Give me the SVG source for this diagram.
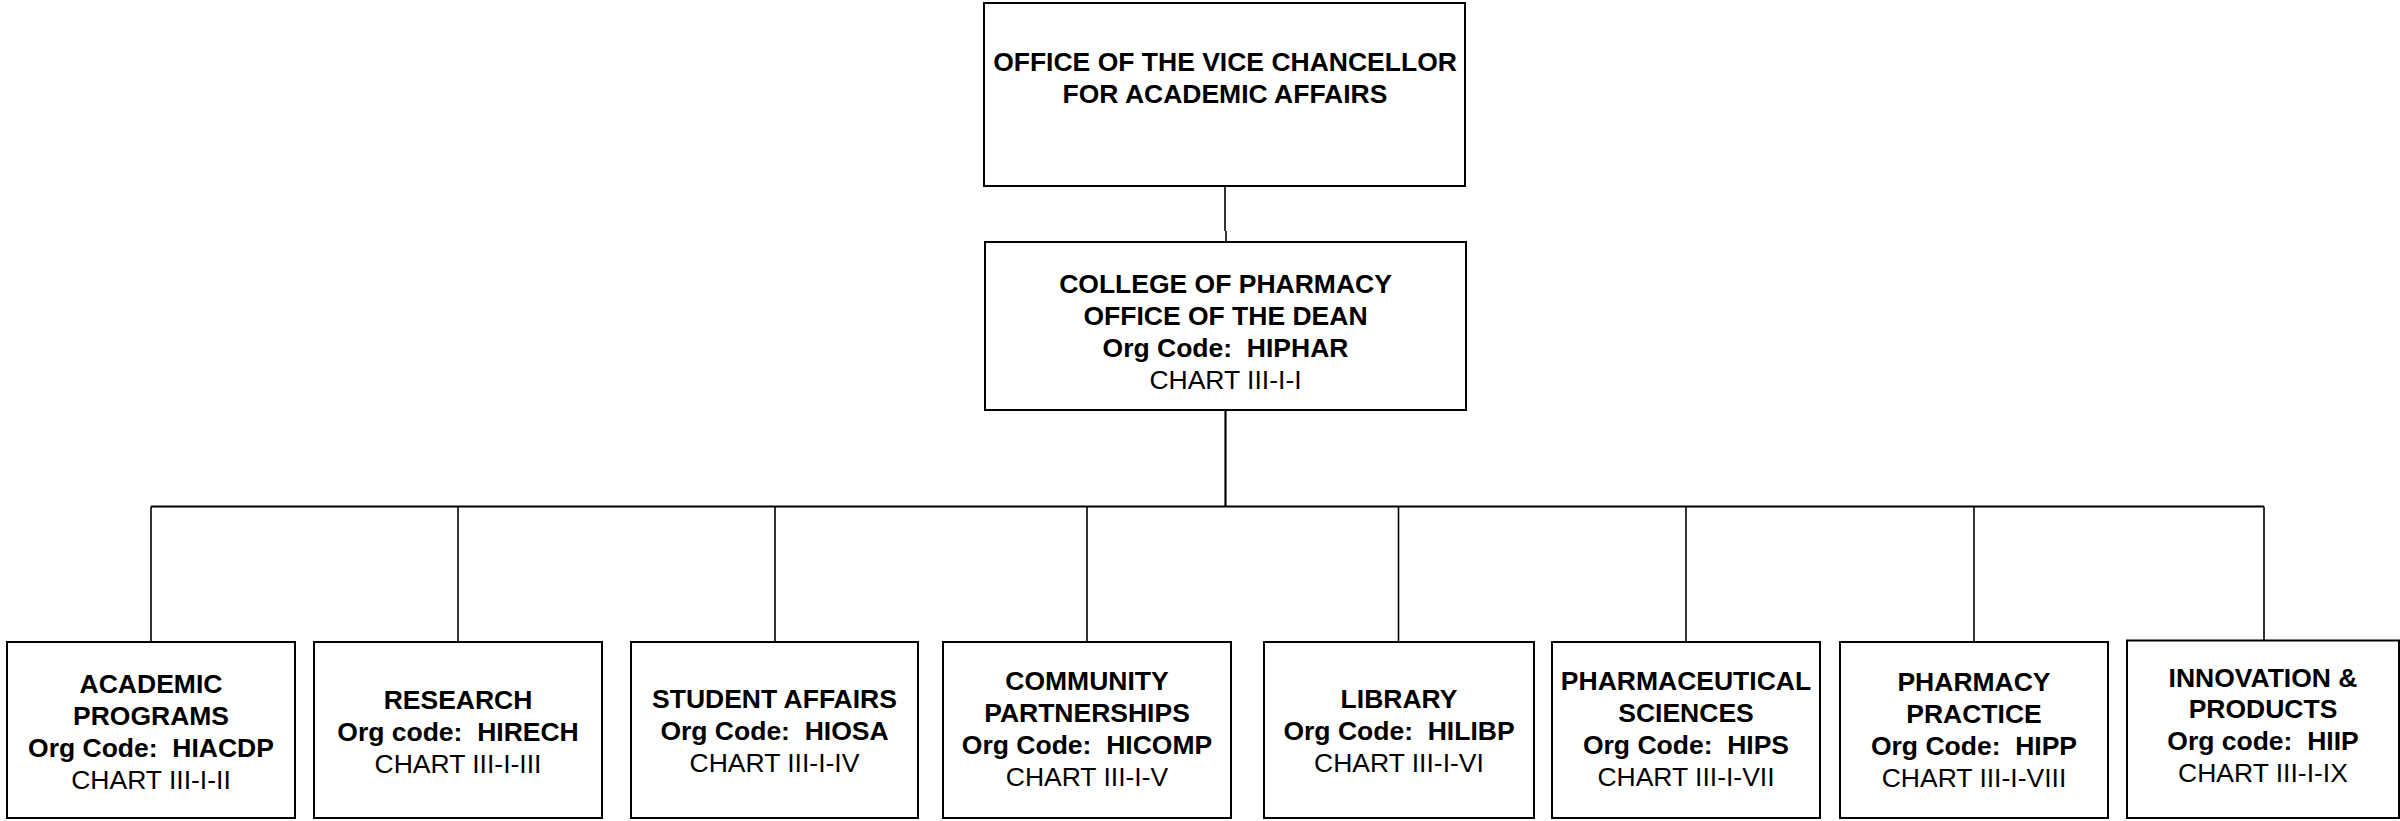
<svg xmlns="http://www.w3.org/2000/svg" width="2400" height="821" viewBox="0 0 2400 821">
<style>
.box{fill:#fff;stroke:#000;stroke-width:2}
.c{fill:none;stroke:#000;stroke-width:1.6}
.t{font-family:"Liberation Sans",Arial,sans-serif;font-size:26.5px;text-anchor:middle;fill:#000;white-space:pre}
.b{font-weight:bold}
</style>
<rect width="2400" height="821" fill="#fff"/>
<g id="connectors">
<path class="c" d="M1225 186 V231 M1226 231 V242"/>
<path class="c" style="stroke-width:2.2" d="M1225.5 410 V506.5"/>
<path class="c" style="stroke-width:2" d="M151 506.5 H2264"/>
<path class="c" d="M151 506.5 V642 M458 506.5 V642 M775 506.5 V642 M1087 506.5 V642 M1398.5 506.5 V642 M1686 506.5 V642 M1974 506.5 V642 M2264 506.5 V640.5"/>
</g>
<g id="vc">
<rect class="box" x="984" y="3" width="481" height="183"/>
<text class="t b" x="1225" y="71">OFFICE OF THE VICE CHANCELLOR</text>
<text class="t b" x="1225" y="102.5">FOR ACADEMIC AFFAIRS</text>
</g>
<g id="dean">
<rect class="box" x="985" y="242" width="481" height="168"/>
<text class="t b" x="1225.5" y="293">COLLEGE OF PHARMACY</text>
<text class="t b" x="1225.5" y="325">OFFICE OF THE DEAN</text>
<text class="t b" x="1225.5" y="357">Org Code:  HIPHAR</text>
<text class="t" x="1225.5" y="389">CHART III-I-I</text>
</g>
<g id="academic">
<rect class="box" x="7" y="642" width="288" height="176"/>
<text class="t b" x="151" y="693">ACADEMIC</text>
<text class="t b" x="151" y="725">PROGRAMS</text>
<text class="t b" x="151" y="757">Org Code:  HIACDP</text>
<text class="t" x="151" y="789">CHART III-I-II</text>
</g>
<g id="research">
<rect class="box" x="314" y="642" width="288" height="176"/>
<text class="t b" x="458" y="709">RESEARCH</text>
<text class="t b" x="458" y="741">Org code:  HIRECH</text>
<text class="t" x="458" y="773">CHART III-I-III</text>
</g>
<g id="student">
<rect class="box" x="631" y="642" width="287" height="176"/>
<text class="t b" x="774.5" y="708">STUDENT AFFAIRS</text>
<text class="t b" x="774.5" y="740">Org Code:  HIOSA</text>
<text class="t" x="774.5" y="772">CHART III-I-IV</text>
</g>
<g id="community">
<rect class="box" x="943" y="642" width="288" height="176"/>
<text class="t b" x="1087" y="690">COMMUNITY</text>
<text class="t b" x="1087" y="722">PARTNERSHIPS</text>
<text class="t b" x="1087" y="754">Org Code:  HICOMP</text>
<text class="t" x="1087" y="786">CHART III-I-V</text>
</g>
<g id="library">
<rect class="box" x="1264" y="642" width="270" height="176"/>
<text class="t b" x="1399" y="708">LIBRARY</text>
<text class="t b" x="1399" y="740">Org Code:  HILIBP</text>
<text class="t" x="1399" y="772">CHART III-I-VI</text>
</g>
<g id="pharmsci">
<rect class="box" x="1552" y="642" width="268" height="176"/>
<text class="t b" x="1686" y="690">PHARMACEUTICAL</text>
<text class="t b" x="1686" y="722">SCIENCES</text>
<text class="t b" x="1686" y="754">Org Code:  HIPS</text>
<text class="t" x="1686" y="786">CHART III-I-VII</text>
</g>
<g id="pharmprac">
<rect class="box" x="1840" y="642" width="268" height="176"/>
<text class="t b" x="1974" y="691">PHARMACY</text>
<text class="t b" x="1974" y="723">PRACTICE</text>
<text class="t b" x="1974" y="755">Org Code:  HIPP</text>
<text class="t" x="1974" y="787">CHART III-I-VIII</text>
</g>
<g id="innovation">
<rect class="box" x="2127" y="640.5" width="272" height="177.5"/>
<text class="t b" x="2263" y="687">INNOVATION &amp;</text>
<text class="t b" x="2263" y="718">PRODUCTS</text>
<text class="t b" x="2263" y="750">Org code:  HIIP</text>
<text class="t" x="2263" y="782">CHART III-I-IX</text>
</g>
</svg>
